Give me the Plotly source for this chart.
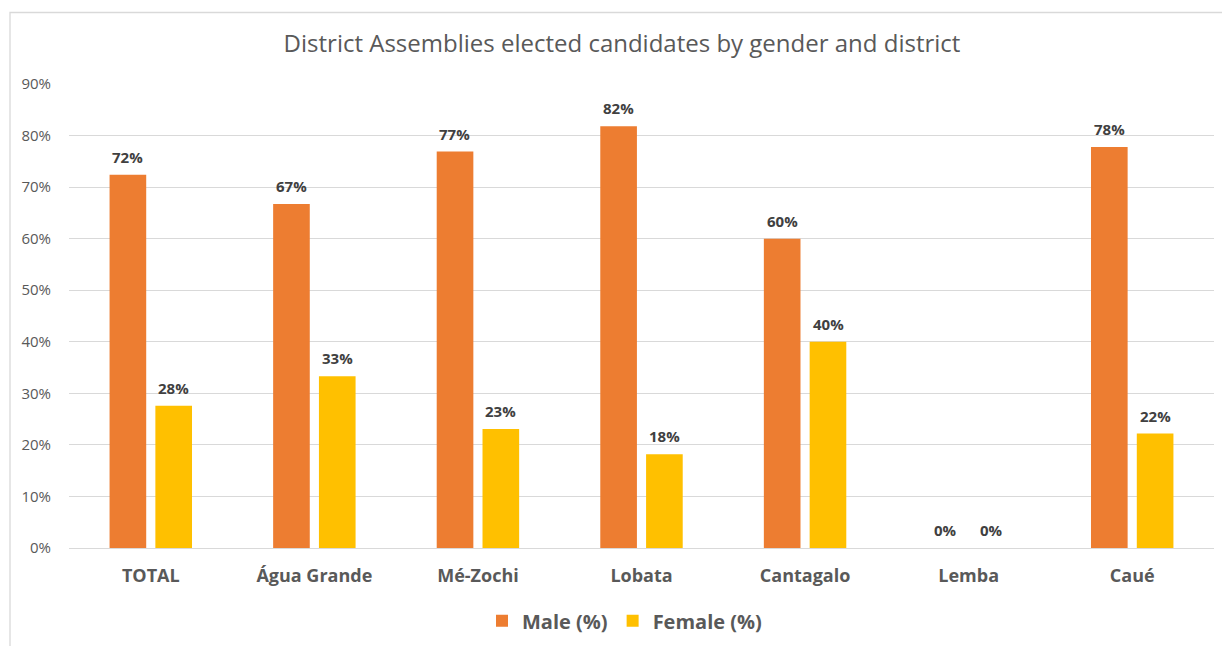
import plotly.graph_objects as go

# Share of elected district assembly candidates, by gender (%)
districts = ["TOTAL", "Água Grande", "Mé-Zochi", "Lobata", "Cantagalo", "Lemba", "Caué"]
male_pct = [72.4, 66.7, 76.9, 81.8, 60.0, 0.0, 77.8]
female_pct = [27.6, 33.3, 23.1, 18.2, 40.0, 0.0, 22.2]
y_ticks = [0, 10, 20, 30, 40, 50, 60, 70, 80, 90]
y_tick_labels = [f"{v}%" for v in y_ticks]

MALE_COLOR = "#ED7D31"
FEMALE_COLOR = "#FFC000"
FONT = "'Open Sans', sans-serif"

fig = go.Figure()
fig.add_trace(go.Bar(name="Male (%)", x=districts, y=male_pct,
                     marker=dict(color=MALE_COLOR, line=dict(width=0))))
fig.add_trace(go.Bar(name="Female (%)", x=districts, y=female_pct,
                     marker=dict(color=FEMALE_COLOR, line=dict(width=0))))

# value labels above each bar
slot_half = 23
annotations = []
for i, d in enumerate(districts):
    for vals, shift in ((male_pct, -slot_half), (female_pct, slot_half)):
        annotations.append(dict(
            x=d, y=vals[i], xref="x", yref="y", xshift=shift, yshift=6,
            text=f"{vals[i]:.0f}%", showarrow=False, yanchor="bottom",
            font=dict(family=FONT, size=15, color="#404040", weight="bold"),
        ))

fig.update_layout(
    width=1222, height=646,
    margin=dict(l=69, r=8, t=84, b=98, autoexpand=False),
    paper_bgcolor="white", plot_bgcolor="white",
    barmode="group", bargap=0.44, bargroupgap=0.2,
    title=dict(text="District Assemblies elected candidates by gender and district",
               x=622 / 1222, xanchor="center", y=1 - 44 / 646, yanchor="middle",
               font=dict(family=FONT, size=24, color="#595959")),
    font=dict(family=FONT, color="#595959"),
    showlegend=True,
    legend=dict(orientation="h", x=0.5 - 17 / 1145, xanchor="center", y=-0.157,
                yanchor="middle",
                font=dict(family=FONT, size=20, color="#595959", weight="bold"),
                itemwidth=30, traceorder="normal"),
    annotations=annotations,
    shapes=[dict(type="rect", xref="paper", yref="paper",
                 x0=(10 - 69) / 1145, x1=1.02, y0=-0.3, y1=1 + (84 - 12.5) / 464,
                 line=dict(color="#D9D9D9", width=1.3), layer="below")],
)

fig.update_xaxes(automargin=False, showline=False, ticks="", showgrid=False,
                 ticklabelstandoff=15,
                 tickfont=dict(family=FONT, size=18, color="#595959", weight="bold"))
fig.update_yaxes(automargin=False, range=[0, 90], tickmode="array", tickvals=y_ticks,
                 ticktext=y_tick_labels, showline=False, ticks="", gridcolor="#D9D9D9",
                 gridwidth=1, zeroline=True, zerolinecolor="#D9D9D9", zerolinewidth=1,
                 ticklabelstandoff=17,
                 tickfont=dict(family=FONT, size=15, color="#595959"))

fig.write_html("out.html")
